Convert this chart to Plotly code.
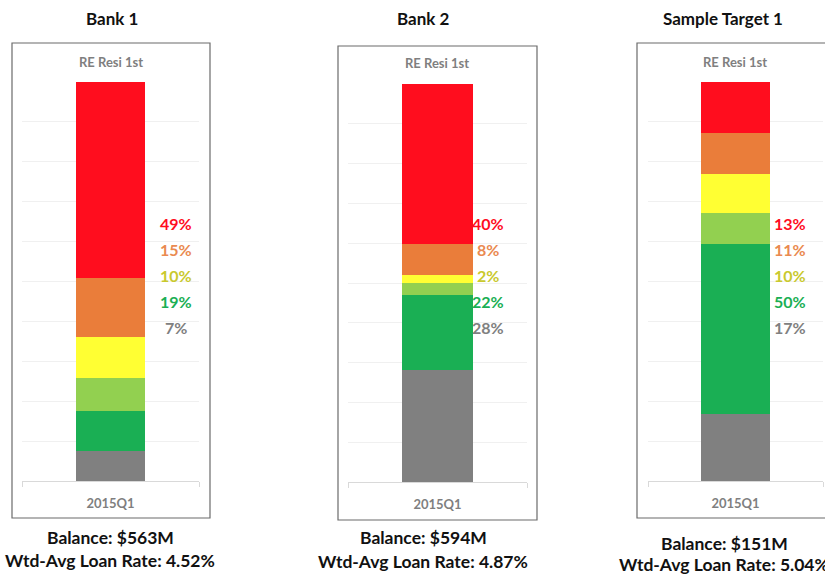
import plotly.graph_objects as go

W, H = 825, 576

# ---------------- data ----------------
panel_titles = ["Bank 1", "Bank 2", "Sample Target 1"]
chart_title = "RE Resi 1st"
category = ["2015Q1"]

segment_names = ["Gray", "Dark Green", "Light Green", "Yellow", "Orange", "Red"]
segment_colors = ["#808080", "#1AAF54", "#92D050", "#FFFF33", "#EA7D3A", "#FF0D1E"]

bank1_values = [7.5, 10.1, 8.3, 10.3, 14.6, 49.2]
bank2_values = [28.2, 18.9, 3.0, 2.0, 7.8, 40.1]
target_values = [16.8, 42.5, 7.8, 9.8, 10.3, 12.8]

label_colors = ["#FF0D1E", "#EA8A50", "#C9C92E", "#1AAF54", "#808080"]
bank1_labels = ["49%", "15%", "10%", "19%", "7%"]
bank2_labels = ["40%", "8%", "2%", "22%", "28%"]
target_labels = ["13%", "11%", "10%", "50%", "17%"]

balances = ["Balance: $563M", "Balance: $594M", "Balance: $151M"]
loan_rates = ["Wtd-Avg Loan Rate: 4.52%", "Wtd-Avg Loan Rate: 4.87%", "Wtd-Avg Loan Rate: 5.04%"]

all_values = [bank1_values, bank2_values, target_values]
all_labels = [bank1_labels, bank2_labels, target_labels]

# ---------------- layout geometry (pixels) ----------------
geo = [
    dict(gx0=22, gx1=199, ytop=82, ybot=481, box=(12, 43, 210, 518), cx=111, lab_x=176,
         ttl_y=62, head_x=112, bal_x=110, bal_y=537, rate_y=560),
    dict(gx0=348, gx1=527, ytop=84, ybot=482, box=(338, 46, 537, 520), cx=437, lab_x=488,
         ttl_y=63, head_x=423, bal_x=423, bal_y=537, rate_y=561),
    dict(gx0=648, gx1=823, ytop=82, ybot=481, box=(637, 43, 832, 518), cx=735, lab_x=790,
         ttl_y=62, head_x=723, bal_x=724, bal_y=543, rate_y=564),
]
label_y0, label_dy = 224, 25.9
FONT = "Lato, 'Open Sans', sans-serif"


def fx(p):
    return p / W


def fy(p):
    return 1 - p / H


fig = go.Figure()
annotations = []
shapes = []

for i, (vals, labs, g) in enumerate(zip(all_values, all_labels, geo)):
    sfx = "" if i == 0 else str(i + 1)
    for name, color, v in zip(segment_names, segment_colors, vals):
        fig.add_trace(go.Bar(
            x=category, y=[v], name=name, marker=dict(color=color, line=dict(width=0)),
            width=0.393, xaxis="x" + sfx, yaxis="y" + sfx, showlegend=False,
            hoverinfo="skip",
        ))
    fig.update_layout(**{
        "xaxis" + sfx: dict(
            domain=[fx(g["gx0"]), fx(g["gx1"])], anchor="y" + sfx, type="category",
            range=[-0.5, 0.5], showgrid=False, showline=True, linecolor="#D9D9D9", linewidth=1,
            ticks="outside", tickson="boundaries", ticklen=5, tickcolor="#D9D9D9",
            tickfont=dict(family=FONT, size=13, color="#7F7F7F", weight="bold"),
            ticklabelstandoff=10, zeroline=False, fixedrange=True,
        ),
        "yaxis" + sfx: dict(
            domain=[fy(g["ybot"]), fy(g["ytop"])], anchor="x" + sfx, range=[0, 100],
            dtick=10, showgrid=True, gridcolor="#F0F0F0", gridwidth=1, showticklabels=False,
            zeroline=False, showline=False, ticks="", fixedrange=True,
        ),
    })
    # box around chart
    bx0, by0, bx1, by1 = g["box"]
    shapes.append(dict(type="rect", xref="paper", yref="paper", x0=fx(bx0), x1=fx(bx1),
                       y0=fy(by1), y1=fy(by0), line=dict(color="#6B6B6B", width=1.2),
                       fillcolor="rgba(0,0,0,0)", layer="below"))
    # heading
    annotations.append(dict(text="<b>" + panel_titles[i] + "</b>", x=fx(g["head_x"]), y=fy(18),
                            xref="paper", yref="paper", showarrow=False, xanchor="center",
                            yanchor="middle", font=dict(family=FONT, size=17, color="#111111")))
    # chart title
    annotations.append(dict(text="<b>" + chart_title + "</b>", x=fx(g["cx"]), y=fy(g["ttl_y"]),
                            xref="paper", yref="paper", showarrow=False, xanchor="center",
                            yanchor="middle", font=dict(family=FONT, size=13, color="#7F7F7F")))
    # percent labels
    for k, (t, c) in enumerate(zip(labs, label_colors)):
        annotations.append(dict(text="<b>" + t + "</b>", x=fx(g["lab_x"]),
                                y=fy(label_y0 + k * label_dy), xref="paper", yref="paper",
                                showarrow=False, xanchor="center", yanchor="middle",
                                font=dict(family=FONT, size=16, color=c)))
    # balance text
    annotations.append(dict(text="<b>" + balances[i] + "</b>", x=fx(g["bal_x"]), y=fy(g["bal_y"]),
                            xref="paper", yref="paper", showarrow=False, xanchor="center",
                            yanchor="middle", font=dict(family=FONT, size=17.5, color="#111111")))
    annotations.append(dict(text="<b>" + loan_rates[i] + "</b>", x=fx(g["bal_x"]), y=fy(g["rate_y"]),
                            xref="paper", yref="paper", showarrow=False, xanchor="center",
                            yanchor="middle", font=dict(family=FONT, size=17.5, color="#111111")))

fig.update_layout(
    width=W, height=H, margin=dict(l=0, r=0, t=0, b=0),
    barmode="stack", bargap=0, paper_bgcolor="white", plot_bgcolor="white",
    annotations=annotations, shapes=shapes, showlegend=False,
    font=dict(family=FONT),
)

fig.write_html("out.html", config={"displayModeBar": False})
